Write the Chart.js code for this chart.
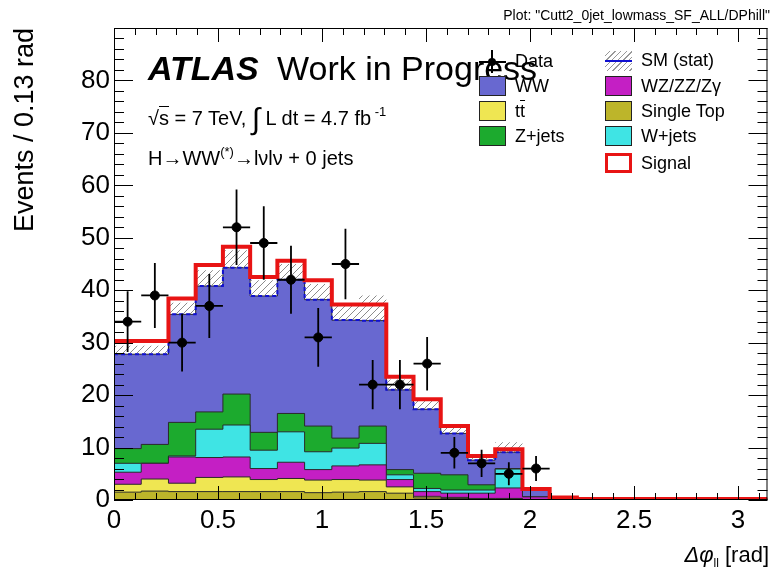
<!DOCTYPE html>
<html><head><meta charset="utf-8">
<script src="https://cdn.jsdelivr.net/npm/chart.js@4/dist/chart.umd.min.js"></script>
<style>
body{margin:0;background:#fff;}
#wrap{position:relative;width:773px;height:575px;font-family:"Liberation Sans",Arial,sans-serif;overflow:hidden;}
canvas{position:absolute;left:0;top:0;}
.t{position:absolute;white-space:nowrap;color:#000;line-height:1;}
.box{position:absolute;width:27px;height:20px;box-sizing:border-box;border:1px solid #222;}
</style></head><body>
<div id="wrap">
<canvas id="c" width="773" height="575"></canvas>
<div class="t" style="right:3px;top:8px;font-size:14px;">Plot: "Cutt2_0jet_lowmass_SF_ALL/DPhill"</div>
<div class="t" style="left:148px;top:51px;font-size:34px;font-weight:bold;font-style:italic;">ATLAS</div>
<div class="t" style="left:277px;top:51px;font-size:34px;">Work in Progress</div>
<div class="t" style="left:148px;top:100px;font-size:20px;">√<span style="border-top:1px solid #000;">s</span> = 7 TeV, <span style="font-size:30px;position:relative;top:4px;">∫</span> L dt = 4.7 fb<span style="font-size:13px;position:relative;top:-9px;"> -1</span></div>
<div class="t" style="left:148px;top:148px;font-size:20px;">H→WW<span style="font-size:13px;position:relative;top:-9px;">(*)</span>→lνlν + 0 jets</div>

<!-- legend -->
<div style="position:absolute;left:479px;top:61px;width:27px;height:2px;background:#000;"></div>
<div style="position:absolute;left:491px;top:50px;width:2px;height:23px;background:#000;"></div>
<div style="position:absolute;left:488px;top:58px;width:8px;height:8px;border-radius:50%;background:#000;"></div>
<div class="t" style="left:515px;top:52px;font-size:18px;">Data</div>
<div class="box" style="left:479px;top:76px;background:#6868d0;"></div>
<div class="t" style="left:515px;top:77px;font-size:18px;">WW</div>
<div class="box" style="left:479px;top:101px;background:#efe652;"></div>
<div class="t" style="left:515px;top:102px;font-size:18px;">t<span style="text-decoration:overline;">t</span></div>
<div class="box" style="left:479px;top:126px;background:#1caa2e;"></div>
<div class="t" style="left:515px;top:127px;font-size:18px;">Z+jets</div>

<div class="box" style="left:605px;top:51px;border:none;background:repeating-linear-gradient(135deg,#fff 0px,#fff 3px,#999 3px,#999 4px);"></div>
<div style="position:absolute;left:605px;top:60px;width:27px;height:2px;background:#1010d0;"></div>
<div class="t" style="left:641px;top:51px;font-size:18px;">SM (stat)</div>
<div class="box" style="left:605px;top:76px;background:#c41fc4;"></div>
<div class="t" style="left:641px;top:77px;font-size:18px;">WZ/ZZ/Zγ</div>
<div class="box" style="left:605px;top:101px;background:#bdb52a;"></div>
<div class="t" style="left:641px;top:102px;font-size:18px;">Single Top</div>
<div class="box" style="left:605px;top:126px;background:#3fe4e4;"></div>
<div class="t" style="left:641px;top:127px;font-size:18px;">W+jets</div>
<div class="box" style="left:605px;top:153px;border:3px solid #e81414;background:#fff;"></div>
<div class="t" style="left:641px;top:154px;font-size:18px;">Signal</div>

<div class="t" style="right:4px;top:544px;font-size:22px;"><i>Δφ</i><span style="font-size:12px;position:relative;top:5px;">ll</span> [rad]</div>
</div>
<script>
// ---- data (24 bins of width pi/24 from 0 to pi) ----
const nBins = 24;
const singleTop = [1.5,1.7,1.6,1.6,1.6,1.6,1.6,1.4,1.5,1.6,1.3,0.4,0.3,0.2,0.2,0.1,0,0,0,0,0,0,0,0];
const ttbar     = [1.5,2.3,1.6,2.7,2.8,2.3,2.5,2.4,2.4,2.2,1.2,0.3,0.2,0.1,0.1,0,0,0,0,0,0,0,0,0];
const dibosons  = [2.3,3.0,5.0,3.8,3.8,2.1,3.1,2.0,2.6,2.9,1.4,0.9,0.8,1.0,2.0,0.5,0.3,0.15,0.15,0.15,0.15,0.15,0.15,0.15];
const wjets     = [1.7,0,0.2,5.4,6.1,3.5,5.8,3.4,3.4,4.1,0.9,0.6,0.6,0.6,3.6,0,0,0,0,0,0,0,0,0];
const zjets     = [2.8,3.6,6.4,3.3,5.9,3.4,3.5,4.9,1.9,3.3,1.0,2.9,2.9,1.0,0.1,0,0,0,0,0,0,0,0,0];
const ww        = [18.0,17.2,20.6,24.0,24.1,26.0,25.5,24.1,22.5,20.1,15.2,12.2,7.9,4.7,3.1,1.3,0.1,0,0,0,0,0,0,0];
const signal    = [2.5,2.5,3.0,4.0,4.0,3.6,3.6,3.7,3.0,3.1,2.5,1.9,1.4,0.8,0.6,0.2,0.1,0.05,0.05,0.05,0.05,0.05,0.05,0.05];
const smStatErr = [1.6,1.6,2.2,3.0,3.3,3.0,3.0,3.0,3.0,4.8,2.0,1.8,1.5,1.0,1.9,0.3,0.1,0,0,0,0,0,0,0];
const dataVals  = [34,39,30,37,52,49,42,31,45,22,22,26,9,7,5,6];
const dataErr   = [5.8,6.2,5.5,6.1,7.2,7.0,6.5,5.6,6.7,4.7,4.7,5.1,3.0,2.6,2.2,2.4];
const xTickLabels = ['0','0.5','1','1.5','2','2.5','3'];
const yTickLabels = ['0','10','20','30','40','50','60','70','80'];

const xMax = Math.PI;
const binW = xMax / nBins;
const edges = Array.from({length:nBins+1},(_,i)=>i*binW);

// cumulative stack
const layers = [singleTop, ttbar, dibosons, wjets, zjets, ww];
const cums = [];
let run = new Array(nBins).fill(0);
for (const l of layers){ run = run.map((v,i)=>v+l[i]); cums.push(run.slice()); }
const total = cums[cums.length-1];
const totSig = total.map((v,i)=>v+signal[i]);
const totErr = total.map((v,i)=>v+smStatErr[i]);

function stepPts(arr){ return edges.map((e,i)=>({x:e, y:arr[Math.min(i,nBins-1)]})); }

// hatch pattern
const pc = document.createElement('canvas'); pc.width=7; pc.height=7;
const pctx = pc.getContext('2d');
pctx.strokeStyle='#8c8c8c'; pctx.lineWidth=1;
pctx.beginPath(); pctx.moveTo(0,7); pctx.lineTo(7,0); pctx.moveTo(-1,1); pctx.lineTo(1,-1); pctx.moveTo(6,8); pctx.lineTo(8,6); pctx.stroke();
const ctx = document.getElementById('c').getContext('2d');
const hatch = ctx.createPattern(pc,'repeat');

const colors = ['#bdb52a','#efe652','#c41fc4','#3fe4e4','#1caa2e','#6868d0'];
const base = {stepped:'before', pointRadius:0, tension:0};
const datasets = layers.map((l,i)=>Object.assign({}, base, {
  data: stepPts(cums[i]), backgroundColor: colors[i], borderColor:'#2a2a2a', borderWidth:1,
  fill:'origin', order: i+1
}));
datasets.push(Object.assign({}, base, {data:stepPts(totSig), backgroundColor:'#fff', borderWidth:0, fill:'origin', order:7}));
datasets.push(Object.assign({}, base, {data:stepPts(totErr), backgroundColor:hatch, borderWidth:0, fill:5, order:0}));
datasets.push(Object.assign({}, base, {data:stepPts(total), borderColor:'#1010d0', borderWidth:2, borderDash:[4,3], fill:false, order:-1}));
datasets.push(Object.assign({}, base, {data:stepPts(totSig), borderColor:'#e81414', borderWidth:4, fill:false, order:-2}));
datasets.push({data:dataVals.map((v,i)=>({x:(i+0.5)*binW, y:v})), showLine:false, pointRadius:4.5,
  pointBackgroundColor:'#000', pointBorderColor:'#000', order:-3});

const framePlugin = {
  id:'frame',
  afterDatasetsDraw(chart){
    const {ctx, chartArea:a, scales:{x,y}} = chart;
    ctx.save();
    // error bars
    ctx.strokeStyle='#000'; ctx.lineWidth=1.8; ctx.beginPath();
    dataVals.forEach((v,i)=>{
      const px = x.getPixelForValue((i+0.5)*binW);
      ctx.moveTo(x.getPixelForValue(i*binW), y.getPixelForValue(v));
      ctx.lineTo(x.getPixelForValue((i+1)*binW), y.getPixelForValue(v));
      ctx.moveTo(px, y.getPixelForValue(v-dataErr[i]));
      ctx.lineTo(px, y.getPixelForValue(v+dataErr[i]));
    });
    ctx.stroke();
    // inner ticks
    ctx.lineWidth=1; ctx.beginPath();
    for (let k=0;k<=45;k++){
      const v=k*2, p=Math.round(y.getPixelForValue(v))+0.5, L=(v%10===0)?19:10;
      ctx.moveTo(a.left,p); ctx.lineTo(a.left+L,p);
      ctx.moveTo(a.right,p); ctx.lineTo(a.right-L,p);
    }
    for (let k=0;k<=31;k++){
      const p=Math.round(x.getPixelForValue(k/10))+0.5, L=(k%5===0)?14:7;
      ctx.moveTo(p,a.bottom); ctx.lineTo(p,a.bottom-L);
      ctx.moveTo(p,a.top); ctx.lineTo(p,a.top+L);
    }
    ctx.stroke();
    ctx.strokeRect(a.left+0.5,a.top+0.5,a.right-a.left-1,a.bottom-a.top-1);
    ctx.restore();
  }
};

const font = {family:'"Liberation Sans", Arial, sans-serif', size:26};
new Chart(ctx, {
  type:'line',
  data:{datasets},
  options:{
    responsive:false, animation:false, events:[],
    layout:{padding:{top:28,right:2,left:0,bottom:0}},
    plugins:{legend:{display:false}, tooltip:{enabled:false}},
    scales:{
      x:{type:'linear', min:0, max:xMax,
        ticks:{stepSize:0.5, includeBounds:false, autoSkip:false, maxRotation:0, color:'#000', font, padding:5,
          callback:(v)=>{const i=Math.round(v*2); return Math.abs(v*2-i)<1e-6 && xTickLabels[i]!==undefined ? xTickLabels[i] : '';}},
        grid:{display:false, drawTicks:false}, border:{display:false},
        afterFit:(s)=>{s.height=75;}},
      y:{min:0, max:90,
        ticks:{stepSize:10, includeBounds:false, color:'#000', font, padding:4,
          callback:(v)=>{const i=Math.round(v/10); return Math.abs(v/10-i)<1e-6 && yTickLabels[i]!==undefined ? yTickLabels[i] : '';}},
        grid:{display:false, drawTicks:false}, border:{display:false},
        title:{display:true, text:'Events / 0.13 rad', align:'end', color:'#000',
          font:{family:'"Liberation Sans", Arial, sans-serif', size:27}, padding:{top:9,bottom:0}},
        afterFit:(s)=>{s.width=114;}}
    }
  },
  plugins:[framePlugin]
});
</script>
</body></html>
